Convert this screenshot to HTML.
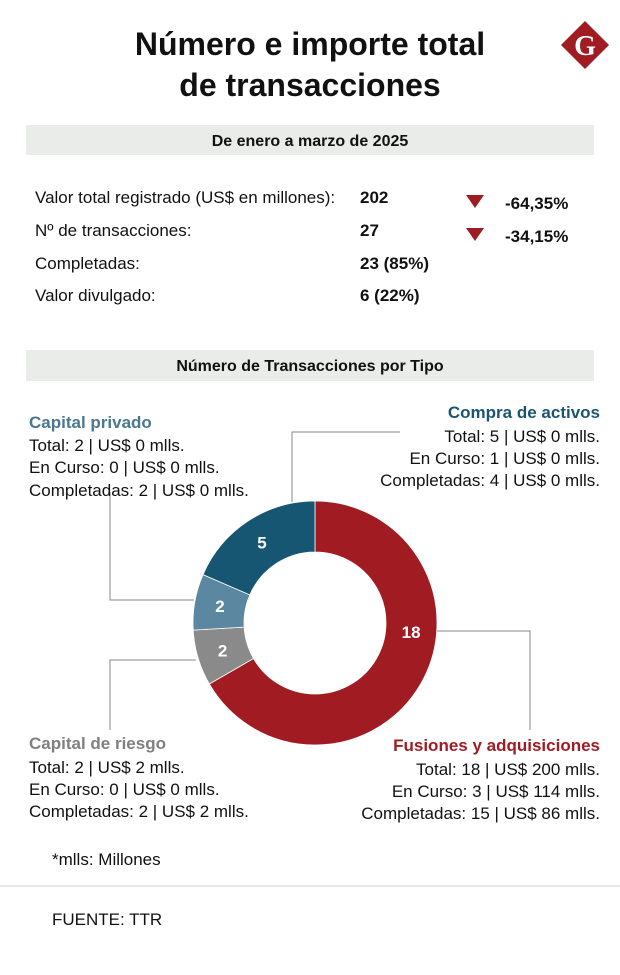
<!DOCTYPE html>
<html><head><meta charset="utf-8"><style>
html,body{margin:0;padding:0;background:#fff;}
svg{display:block;font-family:"Liberation Sans",sans-serif;}
</style></head><body>
<svg id="chart" width="620" height="975" viewBox="0 0 620 975">
  <text x="310" y="55" text-anchor="middle" font-size="32" font-weight="bold" fill="#111">Número e importe total</text>
  <text x="310" y="96" text-anchor="middle" font-size="32" font-weight="bold" fill="#111">de transacciones</text>
  <g>
    <rect x="568" y="28" width="34" height="34" fill="#a01c22" transform="rotate(45 585 45)"/>
    <text x="585" y="55" text-anchor="middle" font-family="Liberation Serif,serif" font-weight="bold" font-size="28" fill="#fff">G</text>
  </g>
  <rect x="26" y="125" width="568" height="30" fill="#e9ece9"/>
  <text x="310" y="146" text-anchor="middle" font-size="16" font-weight="bold" fill="#111">De enero a marzo de 2025</text>
  <g font-size="17" fill="#111">
    <text x="35" y="203">Valor total registrado (US$ en millones):</text>
    <text x="35" y="236">Nº de transacciones:</text>
    <text x="35" y="269">Completadas:</text>
    <text x="35" y="301">Valor divulgado:</text>
    <g font-weight="bold">
      <text x="360" y="203">202</text>
      <text x="360" y="236">27</text>
      <text x="360" y="269">23 (85%)</text>
      <text x="360" y="301">6 (22%)</text>
      <text x="505" y="209">-64,35%</text>
      <text x="505" y="242">-34,15%</text>
    </g>
    <polygon points="466,195 484,195 475,208" fill="#a01c22"/>
    <polygon points="466,228 484,228 475,241" fill="#a01c22"/>
  </g>
  <rect x="26" y="350" width="568" height="31" fill="#e9ece9"/>
  <text x="310" y="371" text-anchor="middle" font-size="16" font-weight="bold" fill="#111">Número de Transacciones por Tipo</text>

  <g stroke="#888" stroke-width="1" fill="none">
    <polyline points="400,432 292,432 292,502"/>
    <polyline points="110,492 110,600 194,600"/>
    <polyline points="196,660 110,660 110,730"/>
    <polyline points="436,631 530,631 530,730"/>
  </g>
  <g id="donut"></g>

  <g font-size="17" fill="#111">
    <text x="29" y="428" font-weight="bold" fill="#4a7891">Capital privado</text>
    <text x="29" y="451">Total: 2 | US$ 0 mlls.</text>
    <text x="29" y="473">En Curso: 0 | US$ 0 mlls.</text>
    <text x="29" y="496">Completadas: 2 | US$ 0 mlls.</text>

    <g text-anchor="end">
      <text x="600" y="418" font-weight="bold" fill="#1a5672">Compra de activos</text>
      <text x="600" y="442">Total: 5 | US$ 0 mlls.</text>
      <text x="600" y="464">En Curso: 1 | US$ 0 mlls.</text>
      <text x="600" y="486">Completadas: 4 | US$ 0 mlls.</text>
      <text x="600" y="751" font-weight="bold" fill="#a01c22">Fusiones y adquisiciones</text>
      <text x="600" y="775">Total: 18 | US$ 200 mlls.</text>
      <text x="600" y="797">En Curso: 3 | US$ 114 mlls.</text>
      <text x="600" y="819">Completadas: 15 | US$ 86 mlls.</text>
    </g>

    <text x="29" y="749" font-weight="bold" fill="#808080">Capital de riesgo</text>
    <text x="29" y="773">Total: 2 | US$ 2 mlls.</text>
    <text x="29" y="795">En Curso: 0 | US$ 0 mlls.</text>
    <text x="29" y="817">Completadas: 2 | US$ 2 mlls.</text>

    <text x="52" y="865">*mlls: Millones</text>
    <text x="52" y="925">FUENTE: TTR</text>
  </g>
  <line x1="0" y1="886" x2="620" y2="886" stroke="#ccc"/>
</svg>
<script>
const categories = ["Fusiones y adquisiciones", "Capital de riesgo", "Capital privado", "Compra de activos"];
const values = [18, 2, 2, 5];
const colors = ["#a01c22", "#8a8a8a", "#5b87a0", "#175673"];
const cx = 315, cy = 623, R = 122, r = 71;
const g = document.getElementById('donut');
const NS = 'http://www.w3.org/2000/svg';
const total = values.reduce((a, b) => a + b, 0);
function pt(rad, a) { return [cx + rad * Math.sin(a), cy - rad * Math.cos(a)]; }
let start = 0;
values.forEach((v, i) => {
  const end = start + v / total * Math.PI * 2;
  const large = end - start > Math.PI ? 1 : 0;
  const [x1, y1] = pt(R, start), [x2, y2] = pt(R, end), [x3, y3] = pt(r, end), [x4, y4] = pt(r, start);
  const p = document.createElementNS(NS, 'path');
  p.setAttribute('d', `M${x1},${y1} A${R},${R} 0 ${large} 1 ${x2},${y2} L${x3},${y3} A${r},${r} 0 ${large} 0 ${x4},${y4} Z`);
  p.setAttribute('fill', colors[i]);
  p.setAttribute('stroke', '#fff');
  p.setAttribute('stroke-width', '0.8');
  
  
  g.appendChild(p);
  let mid = (start + end) / 2;
  if (end - start > Math.PI) mid = start + Math.PI * 0.53;
  const [lx, ly] = pt((R + r) / 2, mid);
  const t = document.createElementNS(NS, 'text');
  t.setAttribute('x', lx);
  t.setAttribute('y', ly + 6);
  t.setAttribute('text-anchor', 'middle');
  t.setAttribute('font-size', '17');
  t.setAttribute('font-weight', 'bold');
  t.setAttribute('fill', '#fff');
  t.textContent = v;
  
  
  g.appendChild(t);
  start = end;
});
</script>
</body></html>
